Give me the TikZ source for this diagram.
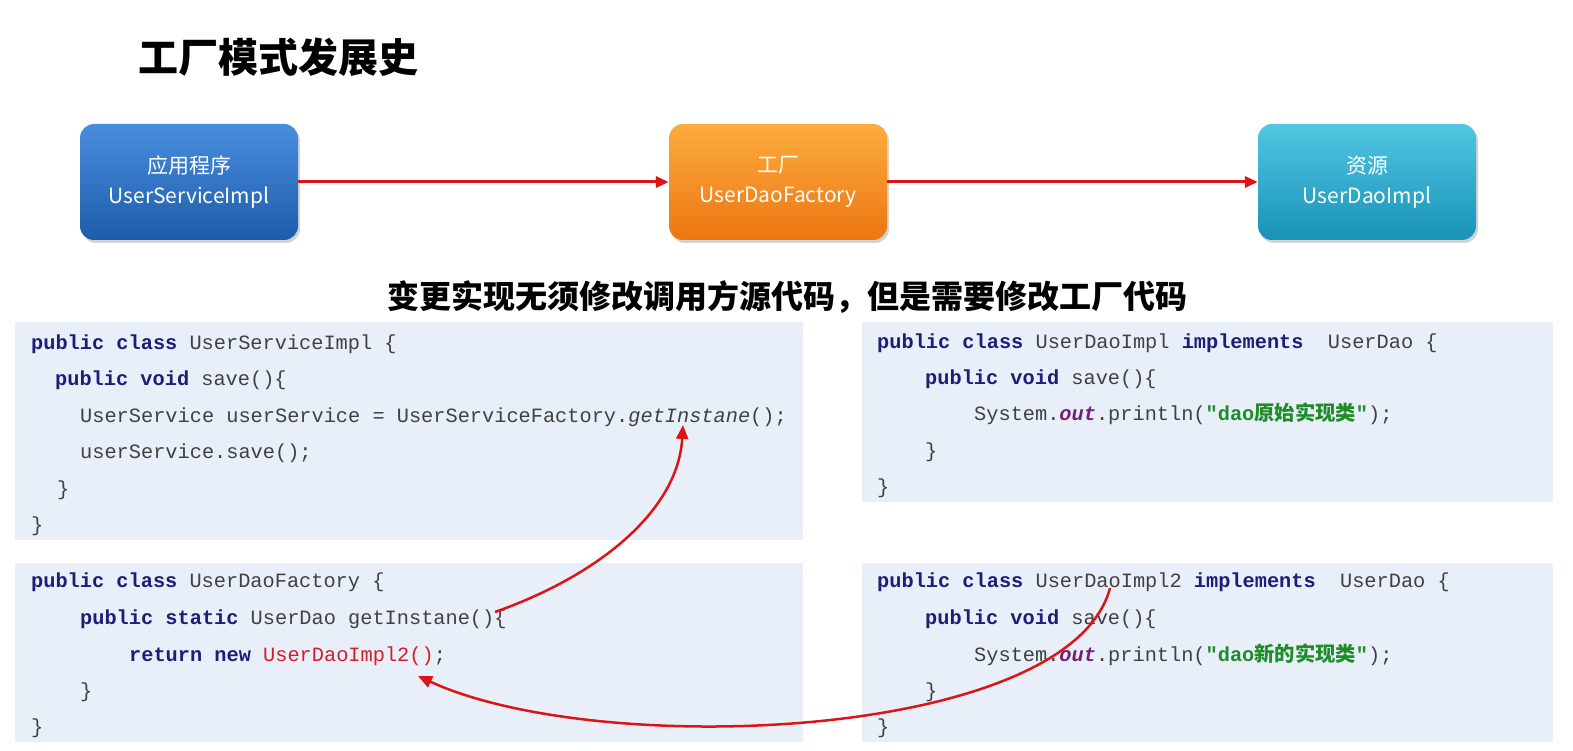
\documentclass[tikz,border=0pt]{standalone}
\usepackage{fontspec}
\setmonofont{Liberation Mono}
\newfontfamily\cjk{Noto Sans CJK SC}
\usetikzlibrary{arrows.meta,shadows}
\definecolor{panelbg}{RGB}{232,239,249}
\definecolor{kwcol}{RGB}{30,30,120}
\definecolor{codecol}{RGB}{64,64,64}
\definecolor{outcol}{RGB}{120,30,120}
\definecolor{strcol}{RGB}{30,140,40}
\definecolor{implcol}{RGB}{210,30,40}
\definecolor{linkred}{RGB}{220,20,20}
\newcommand\kw[1]{\textcolor{kwcol}{\bfseries #1}}
\newcommand\outf{\textcolor{outcol}{\bfseries\itshape out}}
\newcommand\strf[1]{\textcolor{strcol}{\bfseries "dao{\cjk\bfseries #1}"}}
\begin{document}
\begin{tikzpicture}[x=1pt,y=-1pt,
	box/.style={rounded corners=14pt,minimum width=218pt,minimum height=116pt,text=white,
		align=center,font=\cjk\fontsize{21}{30}\selectfont,
		drop shadow={opacity=0.35,shadow xshift=2pt,shadow yshift=-3pt}},
	link/.style={draw=linkred,line width=3pt,-{Triangle[length=13pt,width=11pt]}},
	curve/.style={draw=linkred,line width=2.5pt,-{Triangle[length=14pt,width=12pt]}},
	code/.style={anchor=base west,inner sep=0pt,text=codecol,font=\ttfamily\fontsize{20.3}{24}\selectfont}]
	\useasboundingbox(0,0)rectangle(1573,751);
	% title and note
	\node[anchor=west,font=\cjk\bfseries\fontsize{40}{42}\selectfont](title)at(135,57){工厂模式发展史};
	\node[font=\cjk\bfseries\fontsize{32}{34}\selectfont](note)at(787,297){变更实现无须修改调用方源代码，但是需要修改工厂代码};
	% top boxes
	\node[box,top color={rgb,255:red,72;green,142;blue,222},bottom color={rgb,255:red,30;green,92;blue,170}](app)at(189,182){应用程序\\UserServiceImpl};
	\node[box,top color={rgb,255:red,252;green,172;blue,62},bottom color={rgb,255:red,236;green,118;blue,18}](factory)at(778,182){工厂\\UserDaoFactory};
	\node[box,top color={rgb,255:red,82;green,198;blue,226},bottom color={rgb,255:red,24;green,146;blue,184}](res)at(1367,182){资源\\UserDaoImpl};
	\draw[link](app)--(factory);
	\draw[link](factory)--(res);
	% code panels
	\fill[panelbg](15,322)rectangle(803,540);
	\fill[panelbg](15,563)rectangle(803,742);
	\fill[panelbg](862,322)rectangle(1553,502);
	\fill[panelbg](862,563)rectangle(1553,742);
	% UserServiceImpl
	\node[code](s1)at(31,349){\kw{public class} UserServiceImpl \{};
	\node[code](s2)at(55,385){\kw{public void} save()\{};
	\node[code](s3)at(80,422){UserService userService = UserServiceFactory.\textit{getInstane}();};
	\node[code](s4)at(80,458){userService.save();};
	\node[code](s5)at(57,495){\}};
	\node[code](s6)at(31,531){\}};
	% UserDaoFactory
	\node[code](f1)at(31,587){\kw{public class} UserDaoFactory \{};
	\node[code](f2)at(80,624){\kw{public static} UserDao getInstane()\{};
	\node[code](f3)at(129,661){\kw{return new} \textcolor{implcol}{UserDaoImpl2()};};
	\node[code](f4)at(80,697){\}};
	\node[code](f5)at(31,733){\}};
	% UserDaoImpl
	\node[code](d1)at(877,348){\kw{public class} UserDaoImpl \kw{implements}\ \ UserDao \{};
	\node[code](d2)at(925,384){\kw{public void} save()\{};
	\node[code](d3)at(974,420){System.\outf.println(\strf{原始实现类});};
	\node[code](d4)at(925,457){\}};
	\node[code](d5)at(877,493){\}};
	% UserDaoImpl2
	\node[code](n1)at(877,587){\kw{public class} UserDaoImpl2 \kw{implements}\ \ UserDao \{};
	\node[code](n2)at(925,624){\kw{public void} save()\{};
	\node[code](n3)at(974,661){System.\outf.println(\strf{新的实现类});};
	\node[code](n4)at(925,697){\}};
	\node[code](n5)at(877,733){\}};
	% curved links
	\coordinate(getsrc)at(495,612);
	\coordinate(getdst)at(683,425);
	\coordinate(implsrc)at(1110,588);
	\coordinate(impldst)at(418,676);
	\draw[curve](getsrc)..controls(600,575)and(678,510)..(getdst);
	\draw[curve](implsrc)..controls(1070,740)and(600,760)..(impldst);
\end{tikzpicture}
\end{document}
